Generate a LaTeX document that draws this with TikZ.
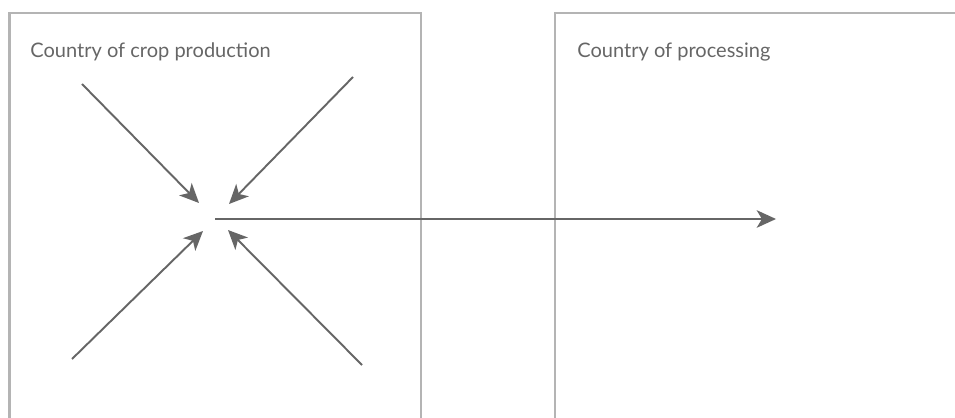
\documentclass[tikz,border=0pt]{standalone}
\usepackage{fontspec}
\setmainfont{Lato}
\usetikzlibrary{arrows.meta,positioning}
\definecolor{framegray}{RGB}{180,180,180}
\definecolor{flowgray}{RGB}{102,102,102}
\tikzset{
  country/.style={draw=framegray,line width=1.2pt},
  clabel/.style={anchor=base west,inner sep=0pt,text=flowgray,
                 font=\fontsize{11.4}{13}\selectfont},
  flow/.style={-{Stealth[length=11pt,width=10pt,inset=3pt]},draw=flowgray,line width=1.1pt},
}
\begin{document}
\begin{tikzpicture}[x=0.02cm,y=-0.02cm]
        \useasboundingbox (0,0) rectangle (955,418);
        % country frames
        \draw[country] (9.5,418) |- (421,13) -- (421,418);
        \draw[country] (555,418) |- (955,13);
        \node[clabel] (prod) at (30,58) {Country of crop production};
        \node[clabel] (proc) at (577,58) {Country of processing};
        % converging flows
        \coordinate (nwend) at (82,84);
        \coordinate (nwtip) at (199,203);
        \coordinate (neend) at (353,77);
        \coordinate (netip) at (229,204);
        \coordinate (swend) at (72,359);
        \coordinate (swtip) at (203,231);
        \coordinate (seend) at (362,365);
        \coordinate (setip) at (228,230);
        \coordinate (hub) at (215,219);
        \coordinate (out) at (776,219);
        \draw[flow](nwend)--(nwtip);
        \draw[flow](neend)--(netip);
        \draw[flow](swend)--(swtip);
        \draw[flow](seend)--(setip);
        \draw[flow](hub)--(out);
      \end{tikzpicture}
\end{document}
